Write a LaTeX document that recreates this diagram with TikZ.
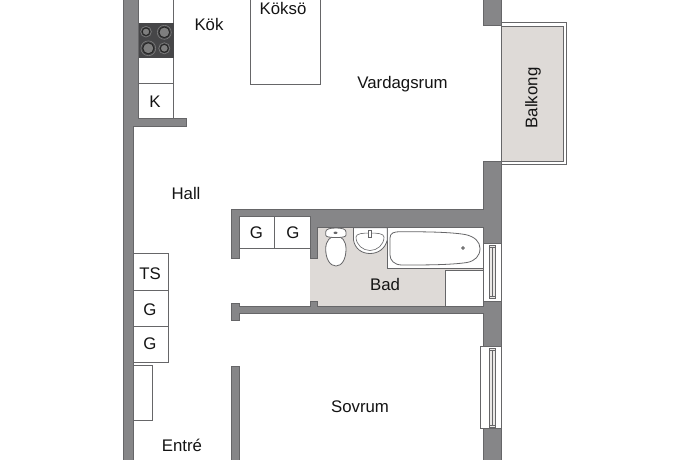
\documentclass[tikz,border=0pt]{standalone}
\usepackage{fontspec}
\setmainfont{Liberation Sans}
\definecolor{wallc}{HTML}{868688}
\definecolor{edgec}{HTML}{666668}
\definecolor{floorc}{HTML}{DEDAD7}
\definecolor{hobc}{HTML}{464648}
\definecolor{ringc}{HTML}{7E7E7E}
\tikzset{
  wall/.style={fill=wallc,draw=edgec,line width=0.6pt},
  fixture/.style={fill=white,draw=edgec,line width=0.8pt},
  burner/.style={fill=ringc,draw=black!85,line width=1pt},
  burnerring/.style={draw=ringc,line width=0.6pt},
  lab/.style={font=\fontsize{16.8}{18}\selectfont,text=black!92,inner sep=0pt},
  winline/.style={draw=edgec,line width=0.6pt,fill=white}
}
\begin{document}
\begin{tikzpicture}[x=1pt,y=-1pt]
\useasboundingbox (0,0) rectangle (690,460);
\fill[white] (0,0) rectangle (690,460);
\begin{scope}
\clip (0,0) rectangle (690,460);
% balcony
\draw[fixture] (501.7,22.7) rectangle (566,164);
\draw[fill=floorc,draw=edgec,line width=0.8pt] (501.7,26) rectangle (563,161.7);
% bathroom floor
\fill[floorc] (317.7,227.7) -- (483,227.7) -- (483,306) -- (310,306) -- (310,258) -- (317.7,258) -- cycle;
% kitchen counter
\draw[fixture] (138,-3) rectangle (173.5,118);
\draw[edgec,line width=0.8pt] (138,83) -- (173.5,83);
\fill[hobc] (138,23) rectangle (173.5,58.5);
\draw[burner] (146,31.7) circle (3.8);
\draw[burnerring] (146,31.7) circle (5.4);
\draw[burner] (164.3,32.3) circle (5.4);
\draw[burnerring] (164.3,32.3) circle (7);
\draw[burner] (148.3,48.3) circle (5.6);
\draw[burnerring] (148.3,48.3) circle (7.4);
\draw[burner] (164.3,48.3) circle (4);
\draw[burnerring] (164.3,48.3) circle (5.6);
% island
\draw[fixture] (250,-3) rectangle (320,84.5);
% closets
\draw[fixture] (239,216) rectangle (310,248);
\draw[edgec,line width=0.8pt] (274.3,216) -- (274.3,248);
\draw[fixture] (133,253.3) rectangle (168.3,362.7);
\draw[edgec,line width=0.8pt] (133,290) -- (168.3,290) (133,326) -- (168.3,326);
\draw[fixture] (133,365.3) rectangle (152,420);
% bath fixtures
\draw[fixture] (387.3,227.7) rectangle (483,268.8);
\draw[fixture] (445,270) rectangle (483,306);
\draw[fixture] (390,238) .. controls (390,233) and (394,231.7) .. (400,231.7)
  .. controls (425,231.7) and (450,232) .. (465,234.5)
  .. controls (475,236.5) and (480,242) .. (480,248.5)
  .. controls (480,256) and (475,261) .. (467,262.5)
  .. controls (450,265) and (425,265) .. (402,265)
  .. controls (394,265) and (390,260) .. (390,255) -- cycle;
\draw[edgec,fill=ringc,line width=0.5pt] (463,248) circle (1.6);
% toilet
\draw[fixture] (336,236) .. controls (342,236) and (346,241) .. (346,249)
  .. controls (346,259) and (342,266) .. (336,266)
  .. controls (330,266) and (325.7,259) .. (325.7,249)
  .. controls (325.7,241) and (330,236) .. (336,236) -- cycle;
\draw[fixture] (325.7,232) .. controls (325.7,229) and (330,228) .. (336,228)
  .. controls (342,228) and (346,229) .. (346,232) -- (346,235) .. controls (346,237) and (342,237.5) .. (336,237.5)
  .. controls (330,237.5) and (325.7,237) .. (325.7,235) -- cycle;
\fill[edgec] (335.5,232.8) ellipse (2 and 1.2);
% sink
\draw[fixture] (353.5,227.7) -- (387.3,227.7) -- (387.3,240)
  .. controls (385,249) and (378,253.5) .. (370,253.5)
  .. controls (362,253.5) and (355,249) .. (353.5,240) -- cycle;
\draw[edgec,line width=0.6pt] (356,237) .. controls (356,245) and (363,250.5) .. (370,250.5)
  .. controls (377,250.5) and (384,245) .. (384,237)
  .. controls (384,233.5) and (377,233) .. (370,233)
  .. controls (363,233) and (356,233.5) .. (356,237) -- cycle;
\draw[fixture,line width=0.5pt] (368.5,230) rectangle (371.5,237);
% walls
\draw[wall] (123.5,-3) -- (138,-3) -- (138,118) -- (186,118) -- (186,126.5) -- (133,126.5) -- (133,463) -- (123.5,463) -- cycle;
\draw[wall] (483,-3) -- (501.7,-3) -- (501.7,25.7) -- (483,25.7) -- cycle;
\draw[wall] (483,161.7) -- (501.7,161.7) -- (501.7,243) -- (483.3,243) -- (483.3,227.7) -- (317.7,227.7) -- (317.7,258) -- (310,258) -- (310,216) -- (239,216) -- (239,258) -- (231.7,258) -- (231.7,209) -- (483,209) -- cycle;
\draw[wall] (231.7,303) -- (239,303) -- (239,306) -- (310,306) -- (310,301.7) -- (317.7,301.7) -- (317.7,306) -- (483,306) -- (483,301) -- (501.7,301) -- (501.7,346.7) -- (483,346.7) -- (483,313.3) -- (239,313.3) -- (239,320) -- (231.7,320) -- cycle;
\draw[wall] (483,428) -- (501.7,428) -- (501.7,463) -- (483,463) -- cycle;
\draw[wall] (231.5,366) -- (239,366) -- (239,463) -- (231.5,463) -- cycle;
% bathroom window
\draw[winline] (483.3,243) rectangle (501.7,301);
\draw[winline,fill=floorc!60] (489.3,245) rectangle (495,298);
\draw[edgec,line width=0.5pt] (489.3,247) -- (495,247) (489.3,296) -- (495,296) (492,247) -- (492,296);
% bedroom window
\draw[winline] (480,346.7) rectangle (501.7,428);
\draw[winline,fill=floorc!60] (489.3,348) rectangle (495,427);
\draw[edgec,line width=0.5pt] (489.3,350) -- (495,350) (489.3,425) -- (495,425) (492,350) -- (492,425);
\end{scope}
% labels
\node[lab] (kok) at (209,24) {Kök};
\node[lab] (koksoe) at (283,8) {Köksö};
\node[lab] (vardag) at (402.5,84) {Vardagsrum};
\node[lab,rotate=90] (balkong) at (533,98) {Balkong};
\node[lab] (hall) at (186,193) {Hall};
\node[lab] (bad) at (385,284) {Bad};
\node[lab] (k) at (155,102) {K};
\node[lab] (ga) at (256.5,233) {G};
\node[lab] (gb) at (293,233) {G};
\node[lab] (ts) at (150,274) {TS};
\node[lab] (gc) at (150,310) {G};
\node[lab] (gd) at (150,344) {G};
\node[lab] (sovrum) at (360,407) {Sovrum};
\node[lab] (entre) at (182,445) {Entré};
\end{tikzpicture}
\end{document}
